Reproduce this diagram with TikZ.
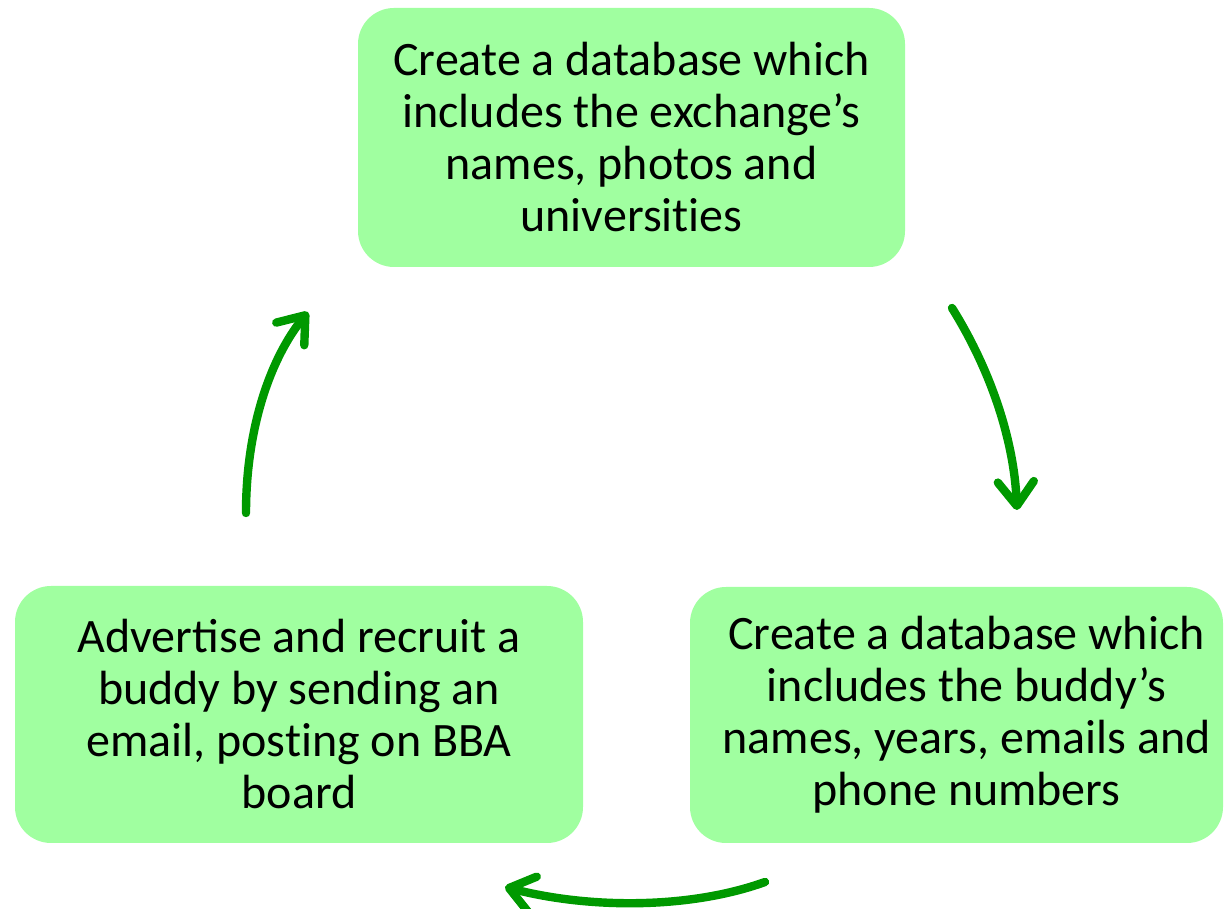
\documentclass[tikz,border=0pt]{standalone}
\usepackage{fontspec}
\setmainfont{Carlito}
\usetikzlibrary{arrows.meta}
\definecolor{boxgreen}{RGB}{160,255,160}
\definecolor{arrowgreen}{RGB}{0,153,0}
\begin{document}
\begin{tikzpicture}[x=0.5pt, y=0.5pt,
        stepbox/.style={rectangle, rounded corners=18pt, fill=boxgreen, align=center,
            font=\fontsize{24}{26}\selectfont, inner sep=0pt},
        cycle/.style={draw=arrowgreen, line width=4.2pt, line cap=round,
            -{Straight Barb[length=12pt, width=18pt, round]}}]
        \useasboundingbox (0,0) rectangle (1225,909);

        % Nodes
        \node (exchange) [stepbox, minimum width=273.5pt, minimum height=129.5pt] at (631.5, 771.5)
            {Create a database which\\includes the exchange’s\\names, photos and\\universit\kern0pt ies};
        \node (buddy) [stepbox, minimum width=266.5pt, minimum height=128pt] at (956.5, 194)
            {\hspace*{10pt}Create a database which\\\hspace*{10pt}includes the buddy’s\\\hspace*{10pt}names, years, emails and\\\hspace*{10pt}phone numbers};
        \node (advert) [stepbox, minimum width=284pt, minimum height=128.5pt] at (299, 194.5)
            {Advertise and recruit a\\buddy by sending an\\email, post\kern0pt ing on BBA\\board};

        % Arrow ends
        \coordinate (r1) at (952, 601);
        \coordinate (r2) at (1017, 399);
        \coordinate (b1) at (765, 27);
        \coordinate (b2) at (505, 22);
        \coordinate (l1) at (246, 396);
        \coordinate (l2) at (308, 597);

        % Edges
        \draw[cycle] (r1) .. controls (990, 540) and (1014, 470) .. (r2);  % exchange to buddy
        \draw[cycle] (b1) .. controls (690, 0) and (590, 0) .. (b2);  % buddy to advert
        \draw[cycle] (l1) .. controls (246, 480) and (270, 550) .. (l2);  % advert to exchange
    \end{tikzpicture}
\end{document}
